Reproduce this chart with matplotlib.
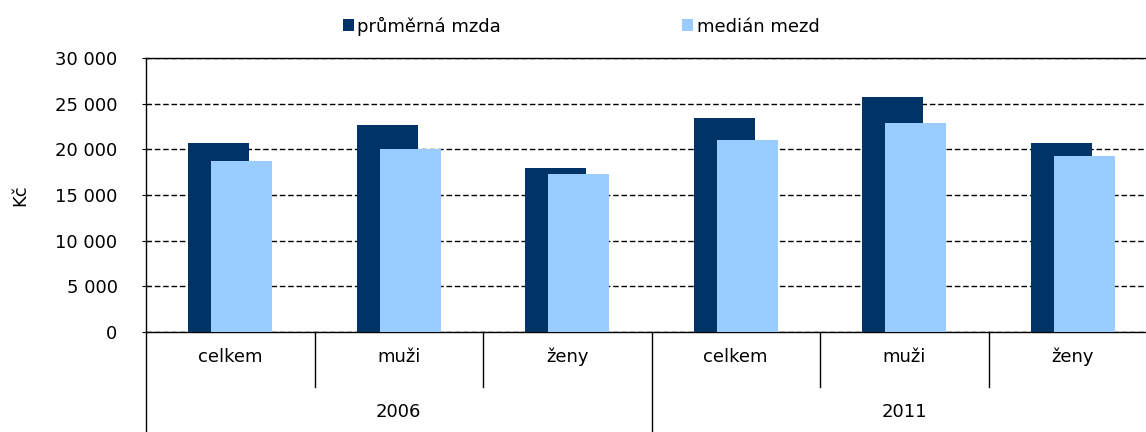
import matplotlib
matplotlib.use("Agg")
import matplotlib.pyplot as plt
from matplotlib.patches import Patch
from matplotlib.lines import Line2D
from matplotlib.ticker import FuncFormatter, MultipleLocator
import numpy as np

plt.rcParams['font.family'] = ['DejaVu Sans']

categories = ["celkem", "muži", "ženy", "celkem", "muži", "ženy"]
years = ["2006", "2011"]
prumerna_mzda = [20650, 22650, 18000, 23450, 25700, 20650]
median_mezd = [18700, 20000, 17350, 21050, 22850, 19300]
series_names = ["průměrná mzda", "medián mezd"]

dark = "#003366"
light = "#99CCFF"
fs = 13

fig = plt.figure(figsize=(11.46, 4.32), dpi=100)
ax = fig.add_axes([146/1146, 100/432, 1011/1146, 274/432])

x = np.arange(len(categories))
w = 0.36
off = 0.068
ax.bar(x - off, prumerna_mzda, width=w, color=dark, zorder=3)
ax.bar(x + off, median_mezd, width=w, color=light, zorder=4)

ax.set_xlim(-0.5, 5.5)
ax.set_ylim(0, 30000)
ax.yaxis.set_major_locator(MultipleLocator(5000))
ax.yaxis.set_major_formatter(FuncFormatter(lambda v, p: format(int(v), ',').replace(',', ' ')))
ax.grid(axis='y', color='black', linestyle=(0, (4, 2)), linewidth=1, zorder=1)
ax.set_axisbelow(True)
for s in ax.spines.values():
    s.set_color('black')
    s.set_linewidth(1)
ax.tick_params(axis='y', direction='inout', length=6, labelsize=fs, pad=17.5, colors='black')
ax.tick_params(axis='x', bottom=False, labelbottom=False)
ax.set_ylabel("Kč", fontsize=fs)
ax.yaxis.set_label_coords((29 - 146) / 1011, 0.5)

trans = ax.get_xaxis_transform()
for b in np.arange(0.5, 5.0, 1.0):
    if b == 2.5:
        continue
    ax.add_line(Line2D([b, b], [0, -0.20], transform=trans, color='black', linewidth=1, clip_on=False))
for b in [-0.5, 2.5, 5.5]:
    ax.add_line(Line2D([b, b], [0, -0.40], transform=trans, color='black', linewidth=1, clip_on=False))
for xi, c in zip(x, categories):
    ax.text(xi, -0.091, c, transform=trans, ha='center', va='center', fontsize=fs)
for i, yv in enumerate(years):
    ax.text(1 + 3 * i, -0.292, yv, transform=trans, ha='center', va='center', fontsize=fs)

handles = [Patch(facecolor=dark), Patch(facecolor=light)]
fig.legend(handles, series_names, loc='center', bbox_to_anchor=(581/1146, 1 - 26/432), ncol=2,
           frameon=False, fontsize=fs, handlelength=0.62, handleheight=0.62, handletextpad=0.2,
           columnspacing=10.0, borderpad=0, borderaxespad=0)

fig.savefig("out.png", dpi=100)
